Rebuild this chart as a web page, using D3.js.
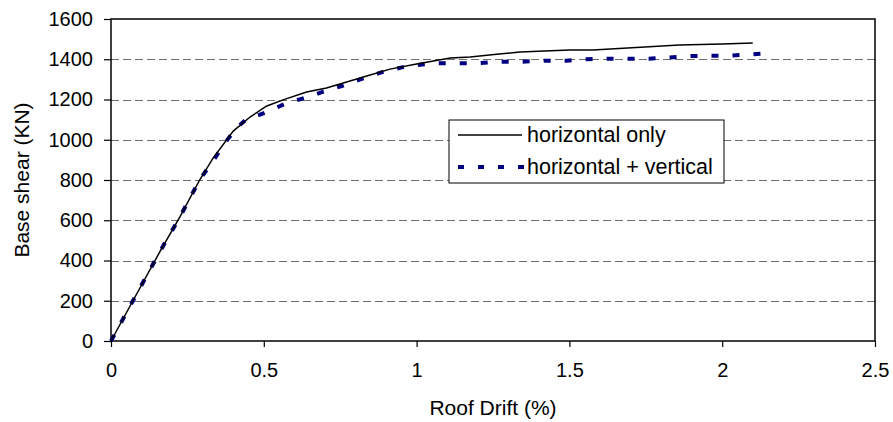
<html>
<head>
<meta charset="utf-8"/>
<style>
body {margin: 0; background: #fff}
text {font-family: "Liberation Sans", Arial, sans-serif}
</style>
</head>
<body>
<div id="chart"></div>
<script src="https://d3js.org/d3.v7.min.js"></script>
<script>
// values
var horizDrift = [0, 0.07, 0.16, 0.226, 0.29, 0.334, 0.40, 0.455, 0.51, 0.563, 0.64, 0.705, 0.76, 0.837, 0.913, 1.0, 1.11, 1.175, 1.27, 1.338, 1.50, 1.577, 1.86, 2.0, 2.10]
var horizShear = [0, 195, 444, 618, 800, 909, 1043, 1113, 1168, 1198, 1237, 1257, 1282, 1317, 1351, 1376, 1406, 1411, 1426, 1436, 1446, 1446, 1471, 1476, 1481]

var bothDrift = [0, 0.07, 0.16, 0.226, 0.29, 0.34, 0.373, 0.41, 0.44, 0.51, 0.576, 0.645, 0.69, 0.755, 0.82, 0.887, 0.955, 1.0, 1.06, 1.2, 1.263, 1.345, 1.42, 1.49, 1.557, 1.623, 1.76, 1.826, 1.895, 2.03, 2.10, 2.17]
var bothShear = [0, 195, 444, 618, 800, 909, 984, 1058, 1098, 1138, 1183, 1212, 1237, 1267, 1302, 1336, 1361, 1371, 1380, 1380, 1388, 1388, 1393, 1393, 1400, 1403, 1403, 1408, 1416, 1418, 1425, 1430]

var xTicks = [0, 0.5, 1, 1.5, 2, 2.5]
var yTicks = [0, 200, 400, 600, 800, 1000, 1200, 1400, 1600]
var seriesNames = ["horizontal only", "horizontal + vertical"]

var width = 893, height = 422
var margin = {left: 111, right: 18, top: 19, bottom: 81}
var w = width - margin.left - margin.right
var h = height - margin.top - margin.bottom

var svg = d3.select("#chart").append("svg")
    .attr("width", width)
    .attr("height", height)

var g = svg.append("g")
    .attr("transform", "translate(" + margin.left + "," + margin.top + ")")

var x = d3.scaleLinear().domain([0, 2.5]).range([0, w])
var y = d3.scaleLinear().domain([0, 1600]).range([h, 0])

// grid lines
g.selectAll(".grid")
  .data(yTicks.filter(function(d){ return d > 0 && d < 1600 }))
  .enter()
  .append("line")
    .attr("x1", 0).attr("x2", w)
    .attr("y1", function(d){ return Math.round(y(d)) + 0.5 })
    .attr("y2", function(d){ return Math.round(y(d)) + 0.5 })
    .attr("stroke", "#6e6e6e")
    .attr("stroke-dasharray", "8,4")

// plot border
g.append("rect")
    .attr("x", 0).attr("y", 0).attr("width", w).attr("height", h)
    .attr("fill", "none").attr("stroke", "#000").attr("stroke-width", 1.5)

// axes
var yAxis = g.append("g")
    .call(d3.axisLeft(y).tickValues(yTicks).tickSize(7).tickPadding(11).tickFormat(d3.format("d")))
var xAxis = g.append("g")
    .attr("transform", "translate(0," + h + ")")
    .call(d3.axisBottom(x).tickValues(xTicks).tickSize(6).tickPadding(15.5).tickFormat(function(d){ return String(d) }))

yAxis.select(".domain").remove()
xAxis.select(".domain").remove()
svg.selectAll(".tick line").attr("stroke", "#000").attr("stroke-width", 1.2)
svg.selectAll(".tick text").attr("font-size", 20).attr("fill", "#000")
  .attr("font-family", "'Liberation Sans', Arial, sans-serif")

var line = d3.line()
  .x(function(d){ return x(d[0]) })
  .y(function(d){ return y(d[1]) })

var horiz = d3.zip(horizDrift, horizShear)
var both = d3.zip(bothDrift, bothShear)

g.append("path")
  .attr("d", line(both))
  .attr("fill", "none")
  .attr("stroke", "#000080")
  .attr("stroke-width", 4)
  .attr("stroke-dasharray", "7,14")

g.append("path")
  .attr("d", line(horiz))
  .attr("fill", "none")
  .attr("stroke", "#000")
  .attr("stroke-width", 1.5)

// legend
var lg = svg.append("g").attr("transform", "translate(449,120)")
lg.append("rect")
  .attr("x", 0).attr("y", 0).attr("width", 275).attr("height", 63)
  .attr("fill", "#fff").attr("stroke", "#000").attr("stroke-width", 1)
lg.append("line")
  .attr("x1", 9).attr("x2", 73).attr("y1", 15).attr("y2", 15)
  .attr("stroke", "#000").attr("stroke-width", 1.5)
lg.append("line")
  .attr("x1", 9).attr("x2", 75).attr("y1", 47).attr("y2", 47)
  .attr("stroke", "#000080").attr("stroke-width", 4).attr("stroke-dasharray", "6,14")
lg.selectAll(".ltext")
  .data(seriesNames)
  .enter()
  .append("text")
    .attr("x", 78)
    .attr("y", function(d, i){ return 22 + i * 32 })
    .attr("font-size", 21.5)
    .text(function(d){ return d })

// axis titles
svg.append("text")
  .attr("x", margin.left + w / 2)
  .attr("y", 415)
  .attr("text-anchor", "middle")
  .attr("font-size", 21)
  .text("Roof Drift (%)")

svg.append("text")
  .attr("transform", "translate(29," + (margin.top + h / 2) + ") rotate(-90)")
  .attr("text-anchor", "middle")
  .attr("font-size", 21)
  .text("Base shear (KN)")
</script>
</body>
</html>
